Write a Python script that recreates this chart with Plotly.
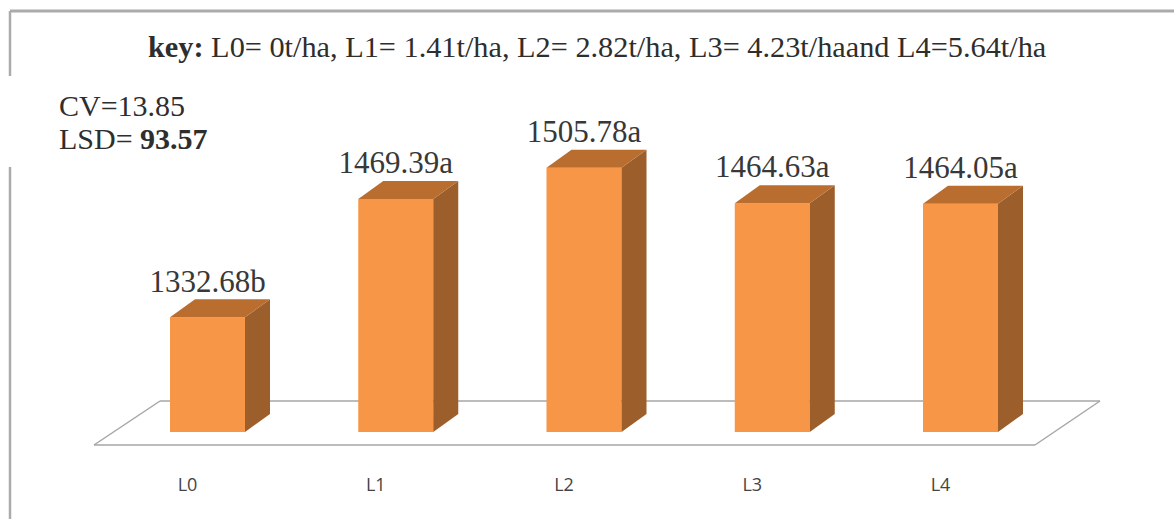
import plotly.graph_objects as go

categories = ["L0", "L1", "L2", "L3", "L4"]
values = [1332.68, 1469.39, 1505.78, 1464.63, 1464.05]
letters = ["b", "a", "a", "a", "a"]

BASE = 1200
W, H = 1174, 519
PX_X = 188.25          # px per category
PX_Y = 0.8645          # px per value unit
X0_PX, BASE_PX = 207.5, 432
HALF = 37.5 / PX_X
DX = 25 / PX_X
DY = 18 / PX_Y
FRONT, TOP, SIDE = "#F79646", "#B96E30", "#9C5E2A"
SERIF = "Liberation Serif"
xs = list(range(len(categories)))

fig = go.Figure()
fig.add_trace(go.Bar(x=xs, y=[v - BASE for v in values], base=BASE, width=2 * HALF,
                     marker=dict(color=FRONT, line=dict(width=0)), hoverinfo="skip"))
for x, v in zip(xs, values):
    fig.add_trace(go.Scatter(
        x=[x + HALF, x + HALF + DX, x + HALF + DX, x + HALF, x + HALF],
        y=[BASE, BASE + DY, v + DY, v, BASE], fill="toself", fillcolor=SIDE,
        mode="none", hoverinfo="skip"))
    fig.add_trace(go.Scatter(
        x=[x - HALF, x - HALF + DX, x + HALF + DX, x + HALF, x - HALF],
        y=[v, v + DY, v + DY, v, v], fill="toself", fillcolor=TOP,
        mode="none", hoverinfo="skip"))
fig.add_trace(go.Scatter(
    x=xs, y=[v + DY for v in values], mode="text",
    text=[f"{v:.2f}{l}" for v, l in zip(values, letters)],
    textposition="top center", hoverinfo="skip",
    textfont=dict(family=SERIF, size=31, color="#383838")))


def line(x0, y0, x1, y1, color="#A6A6A6", width=2):
    return dict(type="line", xref="paper", yref="paper", layer="below",
                x0=x0 / W, x1=x1 / W, y0=1 - y0 / H, y1=1 - y1 / H,
                line=dict(color=color, width=width))


shapes = [line(10, 11, 1174, 11, "#ABABAB", 3), line(10, 11, 10, 76, "#ABABAB", 2.5),
          line(10, 167, 10, 519, "#ABABAB", 2.5)]
floor = [(94, 445), (1035, 445), (1100, 401), (160, 401), (94, 445)]
shapes += [line(*floor[i], *floor[i + 1], "#A6A6A6", 1.5) for i in range(4)]


def note(text, x, y, size, anchor="left"):
    return dict(text=text, xref="paper", yref="paper", x=x / W, y=1 - y / H, showarrow=False,
                xanchor=anchor, yanchor="middle",
                font=dict(family=SERIF, size=size, color="#2e2e2e"))


annotations = [
    note("<b>key:</b> L0= 0t/ha, L1= 1.41t/ha, L2= 2.82t/ha, L3= 4.23t/haand L4=5.64t/ha", 597, 47, 30.3, "center"),
    note("CV=13.85", 57, 106, 30),
    note("LSD= <b>93.57</b>", 57, 138, 30),
]

fig.update_layout(
    width=W, height=H, margin=dict(l=0, r=0, t=0, b=0), showlegend=False,
    paper_bgcolor="white", plot_bgcolor="white", shapes=shapes, annotations=annotations,
    xaxis=dict(range=[-X0_PX / PX_X, (W - X0_PX) / PX_X], tickvals=xs, ticktext=categories,
               showgrid=False, zeroline=False, showline=False, ticks="", anchor="free",
               position=1 - 472 / H, ticklabelshift=-20,
               tickfont=dict(family="Open Sans", size=18, color="#444444")),
    yaxis=dict(range=[BASE - (H - BASE_PX) / PX_Y, BASE + BASE_PX / PX_Y], visible=False),
)
fig.write_html("out.html", config={"displayModeBar": False},
               post_script="document.body.style.margin='0';document.body.style.overflow='hidden';")
